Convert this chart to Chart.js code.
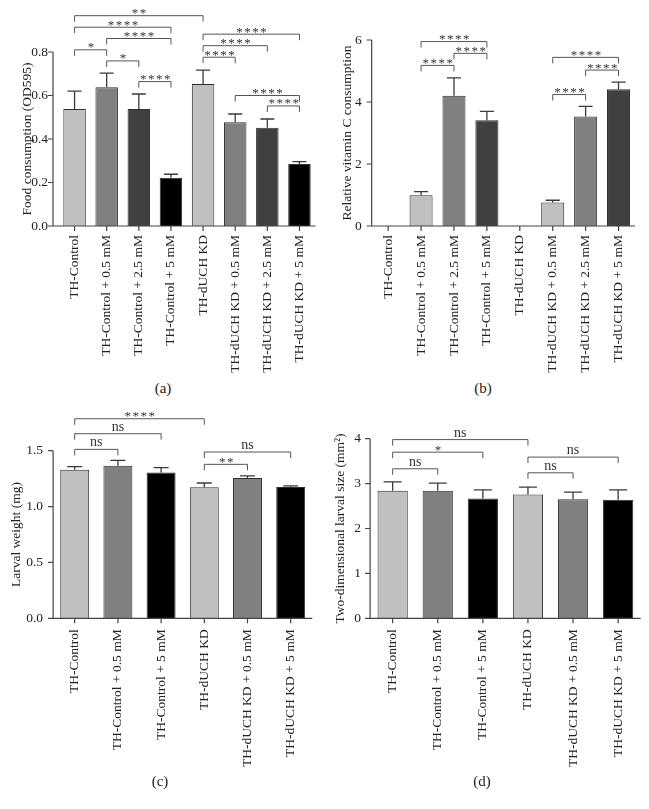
<!DOCTYPE html>
<html>
<head>
<meta charset="utf-8">
<script src="https://cdn.jsdelivr.net/npm/chart.js@4.4.1/dist/chart.umd.min.js"></script>
<style>
  body { margin: 0; background: #fff; width: 649px; height: 809px; position: relative; overflow: hidden; }
  canvas { position: absolute; }
  .cap { position: absolute; width: 40px; margin-left: -20px; text-align: center; font: 15px "Liberation Serif", serif; color: #222; }
</style>
</head>
<body>
<canvas id="ca" width="325" height="375" style="left:0;top:0"></canvas>
<canvas id="cb" width="324" height="375" style="left:325px;top:0"></canvas>
<canvas id="cc" width="325" height="380" style="left:0;top:400px"></canvas>
<canvas id="cd" width="324" height="380" style="left:325px;top:400px"></canvas>
<div class="cap" style="left:163px;top:380px">(a)</div>
<div class="cap" style="left:483px;top:380px">(b)</div>
<div class="cap" style="left:160px;top:773px">(c)</div>
<div class="cap" style="left:482px;top:773px">(d)</div>
<script>
// groups
const catsAB = ["TH-Control", "TH-Control + 0.5 mM", "TH-Control + 2.5 mM", "TH-Control + 5 mM",
  "TH-dUCH KD", "TH-dUCH KD + 0.5 mM", "TH-dUCH KD + 2.5 mM", "TH-dUCH KD + 5 mM"];
const catsCD = ["TH-Control", "TH-Control + 0.5 mM", "TH-Control + 5 mM",
  "TH-dUCH KD", "TH-dUCH KD + 0.5 mM", "TH-dUCH KD + 5 mM"];

// (a) food consumption, OD595
const foodMean = [0.538, 0.638, 0.538, 0.222, 0.653, 0.477, 0.452, 0.285];
const foodErr = [0.082, 0.065, 0.069, 0.016, 0.064, 0.038, 0.040, 0.011];
// (b) relative vitamin C consumption
const vitcMean = [0, 0.99, 4.2, 3.41, 0, 0.76, 3.53, 4.41];
const vitcErr = [0, 0.12, 0.58, 0.29, 0, 0.07, 0.33, 0.23];
// (c) larval weight, mg
const weightMean = [1.33, 1.366, 1.306, 1.173, 1.256, 1.176];
const weightErr = [0.027, 0.048, 0.042, 0.038, 0.018, 0.009];
// (d) larval size, mm2
const sizeMean = [2.84, 2.84, 2.67, 2.76, 2.65, 2.64];
const sizeErr = [0.20, 0.17, 0.19, 0.16, 0.16, 0.22];

// significance: [from, to, level (data units), label]
const foodSig = [[0, 4, 0.967, "**"], [0, 3, 0.914, "****"], [1, 3, 0.862, "****"], [0, 1, 0.81, "*"],
  [1, 2, 0.759, "*"], [2, 3, 0.664, "****"], [4, 7, 0.882, "****"], [4, 6, 0.829, "****"],
  [4, 5, 0.776, "****"], [5, 7, 0.6, "****"], [6, 7, 0.552, "****"]];
const vitcSig = [[1, 3, 5.95, "****"], [2, 3, 5.57, "****"], [1, 2, 5.18, "****"],
  [5, 7, 5.44, "****"], [6, 7, 5.03, "****"], [5, 6, 4.24, "****"]];
const weightSig = [[0, 3, 1.786, "****"], [0, 2, 1.652, "ns"], [0, 1, 1.512, "ns"],
  [3, 5, 1.488, "ns"], [3, 4, 1.378, "**"]];
const sizeSig = [[0, 3, 3.98, "ns"], [0, 2, 3.70, "*"], [3, 5, 3.59, "ns"],
  [0, 1, 3.33, "ns"], [3, 4, 3.24, "ns"]];

const LIGHT = "#c0c0c0", MID = "#808080", DARK = "#404040", BLACK = "#000000";
const INK = "#222";
const SERIF = '"Liberation Serif", "Times New Roman", serif';
Chart.defaults.font.family = SERIF;

const extras = {};

// prism-style axes, error bars and brackets
const prism = {
  id: "prism",
  afterDatasetsDraw(chart) {
    const ex = extras[chart.canvas.id];
    const { ctx, chartArea, scales: { x, y } } = chart;
    const { left, right, top, bottom } = chartArea;
    const x0 = left - ex.gap;
    const meta = chart.getDatasetMeta(0);
    const means = chart.data.datasets[0].data;
    ctx.save();
    ctx.strokeStyle = "#3a3a3a";
    ctx.lineWidth = 1.3;

    // error bars
    meta.data.forEach((bar, i) => {
      if (!ex.errs[i]) return;
      const yb = y.getPixelForValue(means[i]);
      const yt = y.getPixelForValue(means[i] + ex.errs[i]);
      ctx.beginPath();
      ctx.moveTo(bar.x, yb);
      ctx.lineTo(bar.x, yt);
      ctx.moveTo(bar.x - ex.cap / 2, yt);
      ctx.lineTo(bar.x + ex.cap / 2, yt);
      ctx.stroke();
    });

    // axes
    ctx.strokeStyle = "#444";
    ctx.lineWidth = 1.2;
    ctx.beginPath();
    ctx.moveTo(x0, top);
    ctx.lineTo(x0, bottom);
    ctx.lineTo(right, bottom);
    y.ticks.forEach(t => {
      const py = y.getPixelForValue(t.value);
      ctx.moveTo(x0 - 5, py);
      ctx.lineTo(x0, py);
    });
    chart.data.labels.forEach((l, i) => {
      const px = x.getPixelForValue(i);
      ctx.moveTo(px, bottom);
      ctx.lineTo(px, bottom + 5);
    });
    ctx.stroke();

    // brackets
    ctx.strokeStyle = "#555";
    ctx.lineWidth = 1;
    ctx.fillStyle = "#333";
    ctx.textAlign = "center";
    ex.sig.forEach(([a, b, lvl, txt]) => {
      const xa = x.getPixelForValue(a), xb = x.getPixelForValue(b);
      const py = y.getPixelForValue(lvl);
      ctx.beginPath();
      ctx.moveTo(xa, py + 6);
      ctx.lineTo(xa, py);
      ctx.lineTo(xb, py);
      ctx.lineTo(xb, py + 6);
      ctx.stroke();
      if (txt === "ns") {
        ctx.letterSpacing = "0px";
        ctx.font = "14px " + SERIF;
        ctx.fillText(txt, (xa + xb) / 2, py - 3);
      } else {
        ctx.letterSpacing = "1.5px";
        ctx.font = "13px " + SERIF;
        ctx.fillText(txt, (xa + xb) / 2 + 1, py + 1.5);
      }
    });
    ctx.restore();
  }
};

function makeChart(id, labels, means, errs, sig, colors, o) {
  extras[id] = { errs, sig, gap: o.gap, cap: o.cap };
  const font = { size: 13.5, family: SERIF };
  new Chart(document.getElementById(id), {
    type: "bar",
    data: {
      labels,
      datasets: [{
        data: means,
        backgroundColor: colors,
        borderColor: "#2e2e2e",
        borderWidth: 1,
        barPercentage: o.bar,
        categoryPercentage: 1
      }]
    },
    options: {
      responsive: false,
      animation: false,
      events: [],
      layout: { padding: { left: 0, top: o.top, right: o.right, bottom: 0 } },
      plugins: { legend: { display: false }, tooltip: { enabled: false } },
      scales: {
        x: {
          grid: { display: false, drawTicks: false },
          border: { display: false },
          ticks: { minRotation: 90, maxRotation: 90, autoSkip: false, padding: o.xpad, font, color: INK },
          afterFit(s) { s.height = o.xH; }
        },
        y: {
          min: 0,
          max: o.max,
          grid: { display: false, drawTicks: false },
          border: { display: false },
          ticks: { stepSize: o.step, padding: o.ypad, font: { size: 13.5, family: SERIF }, color: INK,
            callback: v => v.toFixed(o.dec) },
          title: { display: true, text: o.title, font, color: INK, padding: { top: o.tpad, bottom: 0 } },
          afterFit(s) { s.width = o.yW; }
        }
      }
    },
    plugins: [prism]
  });
}

makeChart("ca", catsAB, foodMean, foodErr, foodSig,
  [LIGHT, MID, DARK, BLACK, LIGHT, MID, DARK, BLACK],
  { top: 52, right: 5.5, xH: 149, yW: 58.5, gap: 5.5, max: 0.8, step: 0.2, dec: 1,
    xpad: 9, ypad: 10.5, tpad: 19.6, bar: 0.7, cap: 14, title: "Food consumption (OD595)" });

makeChart("cb", catsAB, vitcMean, vitcErr, vitcSig,
  [LIGHT, LIGHT, MID, DARK, LIGHT, LIGHT, MID, DARK],
  { top: 40, right: 14, xH: 149, yW: 46.7, gap: 0, max: 6, step: 2, dec: 0,
    xpad: 9, ypad: 10, tpad: 14.6, bar: 0.7, cap: 14, title: "Relative vitamin C consumption" });

makeChart("cc", catsCD, weightMean, weightErr, weightSig,
  [LIGHT, MID, BLACK, LIGHT, MID, BLACK],
  { top: 50.7, right: 12.7, xH: 161.7, yW: 53.1, gap: 0, max: 1.5, step: 0.5, dec: 1,
    xpad: 11, ypad: 10, tpad: 8.3, bar: 0.67, cap: 15, title: "Larval weight (mg)" });

makeChart("cd", catsCD, sizeMean, sizeErr, sizeSig,
  [LIGHT, MID, BLACK, LIGHT, MID, BLACK],
  { top: 38.7, right: 8.3, xH: 161.7, yW: 45.1, gap: 0, max: 4, step: 1, dec: 0,
    xpad: 11, ypad: 9, tpad: 7.6, bar: 0.67, cap: 18, title: "Two-dimensional larval size (mm\u00b2)" });
</script>
</body>
</html>
